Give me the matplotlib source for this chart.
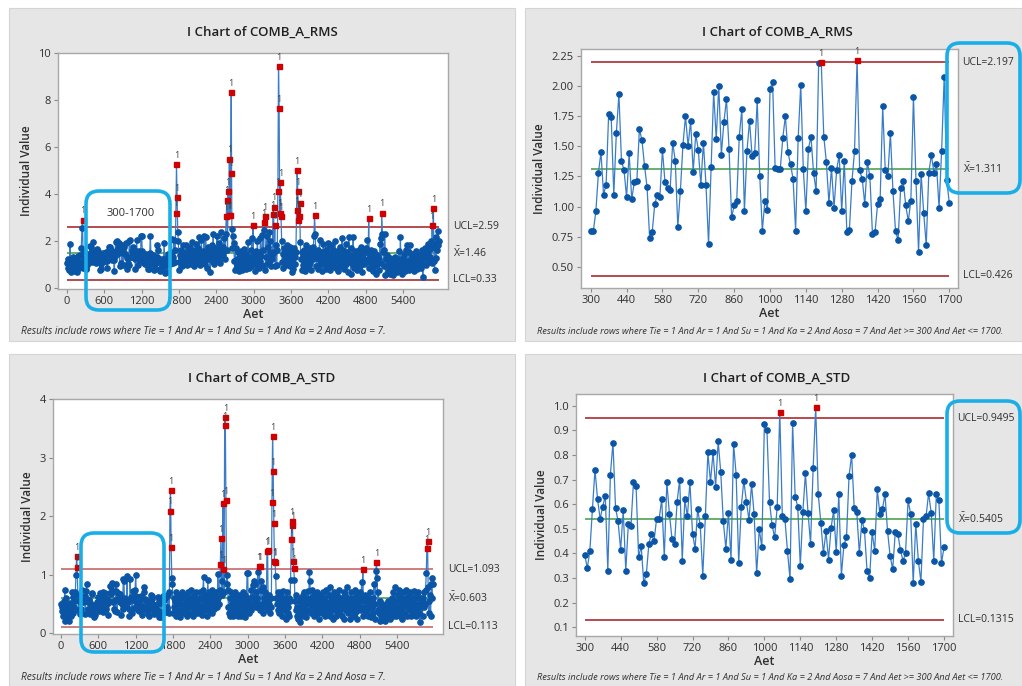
import numpy as np
import matplotlib
matplotlib.use("Agg")
import matplotlib.pyplot as plt
from matplotlib.patches import Rectangle, FancyBboxPatch
from matplotlib.transforms import IdentityTransform, blended_transform_factory

plt.rcParams['font.family'] = ['Open Sans', 'DejaVu Sans']
plt.rcParams['mathtext.fontset'] = 'custom'
plt.rcParams['mathtext.rm'] = 'Open Sans'

AET_STEP = 10

# COMB_A_RMS, Aet 0..290
rms_head = [1.05, 0.85, 1.2, 0.75, 1.0, 1.85, 0.9, 0.65, 1.1, 1.3,
            0.8, 1.15, 0.95, 0.7, 1.25, 1.05, 0.65, 0.9, 1.35, 1.0,
            0.85, 1.4, 1.1, 1.7, 2.55, 2.9, 0.85, 1.55, 1.2, 0.95]
# COMB_A_RMS, Aet 300..1700
rms_mid = [0.795, 0.795, 0.96, 1.28, 1.45, 1.10, 1.18, 1.77, 1.74, 1.10,
           1.61, 1.93, 1.38, 1.30, 1.08, 1.44, 1.06, 1.20, 1.21, 1.64,
           1.55, 1.34, 1.16, 0.74, 0.79, 1.02, 1.10, 1.08, 1.47, 1.20,
           1.15, 1.14, 1.53, 1.38, 0.83, 1.13, 1.51, 1.75, 1.50, 1.71,
           1.29, 1.60, 1.47, 1.18, 1.53, 1.18, 0.69, 1.33, 1.95, 1.56,
           2.00, 1.43, 1.70, 1.89, 1.48, 0.91, 1.01, 1.05, 1.58, 1.81,
           0.96, 1.46, 1.71, 1.42, 1.44, 1.88, 1.25, 0.80, 1.05, 0.97,
           1.97, 2.03, 1.32, 1.31, 1.31, 1.57, 1.75, 1.45, 1.35, 1.23,
           0.80, 1.57, 2.01, 1.31, 0.96, 1.48, 1.58, 1.28, 1.13, 2.19,
           2.20, 1.58, 1.37, 1.03, 1.32, 0.99, 1.30, 1.43, 0.96, 1.38,
           0.79, 0.81, 1.21, 1.46, 2.21, 1.30, 1.23, 1.02, 1.37, 1.25,
           0.77, 0.79, 1.02, 1.06, 1.83, 1.30, 1.25, 1.61, 1.13, 0.80,
           0.72, 1.15, 1.21, 1.01, 0.88, 1.05, 1.91, 1.21, 0.62, 1.27,
           0.95, 0.68, 1.28, 1.43, 1.28, 1.35, 0.99, 1.46, 2.07, 1.22,
           1.03]
# COMB_A_RMS, Aet 1710..5980
rms_tail = [1.3, 2.05, 1.1, 1.6, 3.2, 5.25, 3.85, 2.35, 2.0,
            0.75, 1.4, 1.1, 1.6, 1.25, 0.9, 1.5, 1.8, 1.3, 1.05,
            1.45, 1.2, 1.8, 0.95, 1.35, 1.6, 1.1, 1.75, 1.4, 1.0,
            1.3, 1.95, 1.15, 1.5, 0.9, 1.6, 1.25, 1.85, 1.05, 1.4,
            1.7, 1.2, 2.15, 0.95, 1.45, 1.3, 2.05, 1.1, 1.55, 1.25,
            2.2, 1.35, 1.0, 2.15, 1.5, 0.85, 1.75, 1.2, 1.4, 1.6,
            0.65, 1.55, 1.3, 1.8, 1.1, 2.3, 1.45, 1.0, 1.7, 1.25,
            1.5, 2.2, 1.15, 1.65, 1.35, 1.9, 1.05, 1.6, 2.35, 1.3,
            1.75, 1.4, 2.1, 1.55, 1.2, 2.3, 3.05, 3.75, 1.6, 4.1,
            3.1, 5.5, 3.1, 4.9, 8.35, 2.5, 1.7, 2.2, 1.9, 1.15,
            0.75, 1.7, 0.8, 1.2, 0.95, 1.5, 0.7, 1.1, 1.35, 0.85,
            1.55, 1.0, 0.75, 1.3, 1.65, 0.9, 1.1, 1.45, 0.8, 1.2,
            1.0, 1.95, 0.85, 1.3, 1.1, 1.6, 0.9, 2.1, 1.2, 2.65,
            1.05, 1.4, 0.7, 1.2, 1.55, 0.95, 2.0, 1.25, 0.85, 1.5,
            1.15, 2.1, 1.35, 0.95, 2.25, 1.6, 2.45, 2.8, 3.05, 0.75,
            1.3, 2.2, 1.0, 1.75, 2.35, 1.1, 1.5, 2.0, 0.9, 1.4,
            1.2, 3.15, 3.45, 1.5, 2.65, 0.9, 1.8, 0.95, 1.6, 4.1,
            9.45, 7.65, 3.2, 4.5, 3.05, 2.0, 1.1, 1.45, 0.85, 1.7,
            1.25, 1.55, 0.95, 1.8, 1.35, 1.05, 1.6, 1.15, 1.75, 0.9,
            1.4, 0.65, 1.2, 1.55, 0.8, 1.7, 1.3, 1.0, 1.5, 3.3,
            5.0, 4.1, 2.9, 3.05, 3.6, 1.95, 1.2, 1.5, 0.75, 1.3,
            0.95, 1.6, 1.1, 0.7, 1.35, 1.8, 0.85, 1.25, 1.5, 0.95,
            1.7, 1.05, 1.3, 0.75, 1.55, 1.2, 1.75, 2.2, 3.1, 2.3,
            1.45, 0.9, 1.25, 1.6, 0.8, 1.35, 2.05, 1.0, 1.5, 1.2,
            0.7, 1.4, 1.85, 1.1, 0.95, 1.55, 1.3, 0.8, 1.65, 1.15,
            1.9, 1.0, 1.45, 0.75, 1.3, 1.8, 1.15, 0.9, 1.6, 1.25,
            1.0, 2.0, 1.35, 0.85, 1.55, 1.2, 0.7, 1.45, 1.1, 1.75,
            0.9, 1.3, 2.1, 1.05, 1.6, 0.8, 1.4, 1.15, 1.85, 1.0,
            1.5, 0.65, 1.25, 2.15, 1.1, 1.4, 0.6, 1.7, 1.2, 0.95,
            2.15, 1.3, 0.85, 1.55, 1.05, 1.35, 0.75, 1.45, 1.0, 1.6,
            1.2, 0.9, 1.75, 1.1, 0.65, 1.4, 1.25, 1.65, 1.0, 1.5,
            1.1, 1.7, 1.5, 2.05, 1.2, 2.95, 0.85, 1.45, 1.05, 1.6,
            0.8, 1.35, 0.7, 1.25, 1.55, 0.95, 1.15, 0.6, 1.4, 1.0,
            1.3, 0.75, 1.2, 1.85, 2.1, 1.05, 3.2, 2.3, 1.5, 0.9,
            1.6, 2.3, 0.55, 1.2, 0.9, 1.4, 0.65, 1.1, 0.8, 1.25,
            0.6, 0.95, 0.75, 1.15, 0.55, 0.85, 1.05, 0.7, 1.3, 0.9,
            0.65, 1.0, 1.2, 0.75, 1.55, 0.95, 2.15, 0.8, 1.1, 0.6,
            1.25, 0.85, 1.45, 0.7, 1.0, 1.6, 0.9, 1.8, 1.15, 0.75,
            1.5, 1.05, 1.8, 0.85, 1.3, 1.45, 0.95, 1.2, 0.7, 1.35,
            1.1, 1.55, 0.8, 1.25, 1.0, 1.4, 0.9, 1.3, 1.15, 0.85,
            1.6, 1.2, 0.45, 1.45, 1.0, 1.35, 1.7, 0.95, 1.25, 1.55,
            1.4, 1.85, 1.1, 1.65, 1.3, 2.0, 1.05, 2.65, 1.75, 3.4,
            1.15, 0.75, 1.9, 1.25, 2.15, 1.6, 2.4, 1.8, 2.0]

# COMB_A_STD, Aet 0..290
std_head = [0.5, 0.38, 0.45, 0.3, 0.55, 0.42, 0.75, 0.22, 0.6, 0.35,
            0.48, 0.28, 0.4, 0.22, 0.52, 0.38, 0.3, 0.45, 0.7, 0.35,
            0.62, 0.45, 0.55, 0.7, 1.0, 1.32, 1.14, 0.65, 0.4, 0.55]
# COMB_A_STD, Aet 300..1700
std_mid = [0.395, 0.34, 0.41, 0.58, 0.74, 0.62, 0.54, 0.59, 0.635, 0.33,
           0.72, 0.85, 0.585, 0.53, 0.415, 0.575, 0.33, 0.52, 0.51, 0.69,
           0.675, 0.385, 0.43, 0.28, 0.315, 0.44, 0.48, 0.45, 0.54, 0.54,
           0.62, 0.385, 0.69, 0.56, 0.46, 0.44, 0.61, 0.70, 0.37, 0.62,
           0.55, 0.69, 0.48, 0.42, 0.58, 0.515, 0.31, 0.55, 0.81, 0.69,
           0.81, 0.67, 0.855, 0.73, 0.53, 0.42, 0.565, 0.375, 0.845, 0.72,
           0.36, 0.59, 0.695, 0.61, 0.535, 0.68, 0.56, 0.32, 0.50, 0.425,
           0.925, 0.90, 0.61, 0.515, 0.465, 0.59, 0.975, 0.55, 0.54, 0.41,
           0.295, 0.93, 0.63, 0.59, 0.35, 0.57, 0.725, 0.565, 0.44, 0.745,
           0.995, 0.64, 0.525, 0.40, 0.49, 0.375, 0.505, 0.575, 0.405, 0.64,
           0.31, 0.435, 0.465, 0.715, 0.80, 0.585, 0.57, 0.40, 0.535, 0.495,
           0.33, 0.30, 0.485, 0.41, 0.66, 0.56, 0.58, 0.64, 0.49, 0.39,
           0.335, 0.485, 0.48, 0.415, 0.37, 0.40, 0.615, 0.56, 0.28, 0.52,
           0.37, 0.285, 0.54, 0.55, 0.645, 0.565, 0.37, 0.64, 0.615, 0.36,
           0.425]
# COMB_A_STD, Aet 1710..5980
std_tail = [0.45, 0.65, 0.7, 0.35, 2.1, 2.45, 1.48, 0.95, 0.85,
            0.35, 0.6, 0.45, 0.55, 0.3, 0.7, 0.5, 0.4, 0.65, 0.35,
            0.55, 0.28, 0.5, 0.62, 0.4, 0.7, 0.45, 0.35, 0.6, 0.5,
            0.4, 0.65, 0.3, 0.55, 0.7, 0.45, 0.6, 0.35, 0.5, 0.75,
            0.45, 0.6, 0.3, 0.55, 0.65, 0.4, 0.52, 0.7, 0.35, 0.5,
            0.55, 0.4, 0.6, 0.35, 0.7, 0.45, 0.6, 0.32, 0.75, 0.96,
            0.5, 0.65, 0.4, 0.55, 0.3, 0.6, 0.92, 0.45, 0.7, 0.38,
            0.6, 0.5, 0.75, 0.35, 0.55, 0.65, 0.42, 0.6, 0.48, 0.7,
            0.55, 0.45, 1.02, 0.6, 0.5, 0.75, 1.19, 1.63, 0.9, 0.65,
            2.22, 1.1, 0.7, 3.56, 3.7, 2.28, 0.85, 1.0, 0.75, 0.45,
            0.35, 0.6, 0.3, 0.7, 0.5, 0.4, 0.65, 0.3, 0.55, 0.45,
            0.7, 0.35, 0.5, 0.6, 0.3, 0.45, 0.65, 0.4, 0.55, 0.3,
            0.6, 0.45, 0.7, 0.35, 0.5, 0.28, 0.65, 0.4, 0.55, 1.04,
            1.04, 0.5, 0.35, 0.6, 0.45, 0.75, 0.4, 0.62, 0.82, 0.5,
            0.9, 0.55, 0.85, 0.45, 0.7, 0.6, 1.05, 0.5, 1.15, 1.15,
            0.4, 0.75, 0.9, 0.5, 0.35, 0.8, 0.6, 0.45, 0.7, 0.55,
            0.55, 1.41, 1.42, 0.4, 0.65, 0.5, 0.35, 0.6, 0.45, 2.24,
            3.37, 2.77, 1.88, 1.23, 1.22, 0.98, 0.6, 0.5, 0.7, 0.4,
            0.65, 0.35, 0.55, 0.7, 0.45, 0.3, 0.6, 0.72, 0.5, 0.4,
            0.6, 0.25, 0.5, 0.7, 0.35, 0.45, 0.6, 0.3, 0.55, 0.92,
            1.61, 1.92, 1.85, 1.23, 1.12, 0.92, 0.55, 0.4, 0.65, 0.3,
            0.45, 0.25, 0.55, 0.35, 0.2, 0.6, 0.4, 0.5, 0.3, 0.65,
            0.45, 0.7, 0.35, 0.55, 0.28, 0.6, 0.4, 0.72, 0.5, 1.05,
            0.9, 0.6, 0.35, 0.75, 0.45, 0.55, 0.3, 0.65, 0.5, 0.4,
            0.6, 0.35, 0.7, 0.45, 0.55, 0.25, 0.65, 0.4, 0.5, 0.6,
            0.35, 0.7, 0.45, 0.6, 0.3, 0.55, 0.75, 0.4, 0.5, 0.35,
            0.65, 0.45, 0.8, 0.3, 0.55, 0.4, 0.6, 0.25, 0.5, 0.7,
            0.4, 0.55, 0.3, 0.65, 0.45, 0.6, 0.35, 0.75, 0.5, 0.4,
            0.6, 0.3, 0.55, 0.45, 0.7, 0.25, 0.5, 0.65, 0.4, 0.55,
            0.8, 0.35, 0.6, 0.45, 0.55, 0.25, 0.7, 0.4, 0.5, 0.3,
            0.6, 0.45, 0.75, 0.35, 0.5, 0.65, 0.25, 0.55, 0.4, 0.6,
            0.45, 0.7, 0.4, 0.88, 0.55, 1.1, 0.3, 0.6, 0.45, 0.65,
            0.35, 0.55, 0.4, 0.6, 0.3, 0.5, 0.45, 0.7, 0.28, 0.55,
            0.45, 0.6, 0.35, 0.85, 0.5, 0.25, 1.07, 1.22, 0.95, 0.4,
            0.7, 0.35, 0.55, 0.22, 0.45, 0.3, 0.5, 0.38, 0.25, 0.45,
            0.35, 0.22, 0.5, 0.3, 0.42, 0.28, 0.55, 0.33, 0.45, 0.25,
            0.5, 0.35, 0.6, 0.3, 0.7, 0.45, 0.4, 0.8, 0.3, 0.55,
            0.35, 0.65, 0.45, 0.75, 0.3, 0.55, 0.4, 0.6, 0.25, 0.5,
            0.7, 0.45, 0.35, 0.6, 0.5, 0.75, 0.3, 0.55, 0.45, 0.65,
            0.4, 0.7, 0.3, 0.55, 0.45, 0.6, 0.35, 0.72, 0.5, 0.4,
            0.6, 0.3, 0.65, 0.45, 0.7, 0.35, 0.5, 0.2, 0.6, 0.45,
            0.55, 0.3, 0.6, 0.45, 0.7, 0.5, 0.75, 1.04, 1.46, 1.58,
            0.8, 0.35, 0.55, 0.65, 0.3, 0.85, 0.6, 0.95, 0.85]

# control limits as reported by the I charts
rms_all_limits = (2.59, 1.46, 0.33)
rms_sub_limits = (2.197, 1.311, 0.426)
std_all_limits = (1.093, 0.603, 0.113)
std_sub_limits = (0.9495, 0.5405, 0.1315)

full_xticks = [0, 600, 1200, 1800, 2400, 3000, 3600, 4200, 4800, 5400]
sub_xticks = [300, 440, 580, 720, 860, 1000, 1140, 1280, 1420, 1560, 1700]

note_all = "Results include rows where Tie = 1 And Ar = 1 And Su = 1 And Ka = 2 And Aosa = 7."
note_sub = ("Results include rows where Tie = 1 And Ar = 1 And Su = 1 And Ka = 2 "
            "And Aosa = 7 And Aet >= 300 And Aet <= 1700.")

W, H = 1022, 686
LINE = '#3a7cc8'
DOT = '#0a55a6'
RED = '#d00000'
LIMIT = '#a3191c'
CENTER = '#3e9b3e'
CYAN = '#1aaee8'
TXT = '#303030'

fig = plt.figure(figsize=(W / 100, H / 100), dpi=100)
fig.patch.set_facecolor('white')


def px_rect(l, t, r, b):
    return [l / W, 1 - b / H, (r - l) / W, (b - t) / H]


def panel(l, t, r, b):
    x, y, w, h = px_rect(l, t, r, b)
    fig.add_artist(Rectangle((x, y), w, h, transform=fig.transFigure,
                             fc='#e6e6e6', ec='#d4d4d4', lw=0.8, zorder=-5))


def cyan_box(l, t, r, b):
    fig.add_artist(FancyBboxPatch((l, H - b), r - l, b - t,
                                  boxstyle="round,pad=0,rounding_size=13",
                                  transform=IdentityTransform(), fc='none',
                                  ec=CYAN, lw=2.6, zorder=20))


def ichart(rect, vals, aet0, limits, ylim, yticks, yfmt, xlim, xticks, title,
           title_xy, note, note_xy, note_size, limit_color=LIMIT):
    vals = np.asarray(vals, dtype=float)
    aet = aet0 + np.arange(len(vals)) * AET_STEP
    ucl, cl, lcl = limits
    ax = fig.add_axes(px_rect(*rect))
    ax.set_facecolor('white')

    ax.hlines([ucl, lcl], aet[0], aet[-1], color=limit_color, lw=1.1, zorder=1.5)
    ax.hlines(cl, aet[0], aet[-1], color=CENTER, lw=1.1, zorder=1.5)
    ax.plot(aet, vals, color=LINE, lw=0.9, zorder=2)
    ok = (vals <= ucl) & (vals >= lcl)
    ax.plot(aet[ok], vals[ok], 'o', ms=3.8, color=DOT, mec=DOT, zorder=3)
    ax.plot(aet[~ok], vals[~ok], 's', ms=3.6, color=RED, mec=RED, zorder=4)
    for x, y in zip(aet[~ok], vals[~ok]):
        ax.annotate('1', (x, y), xytext=(0, 3), textcoords='offset points',
                    ha='center', va='bottom', fontsize=6.5, color='#404040', zorder=5)

    tr = blended_transform_factory(ax.transAxes, ax.transData)
    ax.text(1.012, ucl, f"UCL={ucl:g}", transform=tr, va='center', ha='left',
            fontsize=7.5, color=TXT)
    ax.text(1.012, cl, r"$\bar{\mathrm{X}}$" + f"={cl:g}", transform=tr, va='center',
            ha='left', fontsize=7.5, color=TXT)
    ax.text(1.012, lcl, f"LCL={lcl:g}", transform=tr, va='center', ha='left',
            fontsize=7.5, color=TXT)

    ax.set_xlim(*xlim)
    ax.set_ylim(*ylim)
    ax.set_xticks(xticks)
    ax.set_yticks(yticks)
    ax.set_yticklabels([yfmt.format(v) for v in yticks])
    ax.tick_params(labelsize=8, labelcolor=TXT, color='#8a8a8a', length=3, width=0.8, pad=2)
    for s in ax.spines.values():
        s.set_color('#a8a8a8')
        s.set_linewidth(1.0)
    ax.set_xlabel('Aet', fontsize=9, fontweight='semibold', color=TXT, labelpad=1)
    ax.set_ylabel('Individual Value', fontsize=8.5, fontweight='semibold', color=TXT, labelpad=4)

    fig.text(title_xy[0] / W, 1 - title_xy[1] / H, title, ha='center', va='center',
             fontsize=9.5, fontweight='semibold', color='#202020')
    fig.text(note_xy[0] / W, 1 - note_xy[1] / H, note, ha='left', va='center',
             fontsize=note_size, style='italic', color=TXT)
    return ax


rms_full = rms_head + rms_mid + rms_tail
std_full = std_head + std_mid + std_tail

panel(9, 8, 515, 341)
panel(525, 8, 1022, 341)
panel(9, 354, 515, 686)
panel(525, 354, 1022, 686)

ichart((58, 53, 448, 289), rms_full, 0, rms_all_limits, (-0.06, 10.0), [0, 2, 4, 6, 8, 10],
       "{:g}", (-145, 6125), full_xticks, "I Chart of COMB_A_RMS", (262, 32),
       note_all, (21, 332), 7.3)
ichart((581, 49, 958, 288), rms_mid, 300, rms_sub_limits, (0.326, 2.305),
       [0.5, 0.75, 1.0, 1.25, 1.5, 1.75, 2.0, 2.25], "{:.2f}",
       (262, 1734), sub_xticks, "I Chart of COMB_A_RMS", (777, 32), note_sub, (537, 332), 6.7)
ichart((53, 399, 443, 634), std_full, 0, std_all_limits, (-0.01, 4.005), [0, 1, 2, 3, 4],
       "{:g}", (-129, 6139), full_xticks, "I Chart of COMB_A_STD", (262, 378),
       note_all, (21, 678), 7.3, limit_color='#c25a5a')
ichart((576, 394, 953, 636), std_mid, 300, std_sub_limits, (0.065, 1.047),
       [0.1, 0.2, 0.3, 0.4, 0.5, 0.6, 0.7, 0.8, 0.9, 1.0], "{:.1f}",
       (266, 1735), sub_xticks, "I Chart of COMB_A_STD", (777, 378), note_sub, (537, 678), 6.7)

cyan_box(86, 191, 170, 310)
fig.text(131 / W, 1 - 214 / H, "300-1700", ha='center', va='center', fontsize=8, color=TXT)
cyan_box(947, 43, 1020, 193)
cyan_box(81, 533, 164, 652)
cyan_box(947, 401, 1020, 533)

fig.savefig('out.png', dpi=100)
